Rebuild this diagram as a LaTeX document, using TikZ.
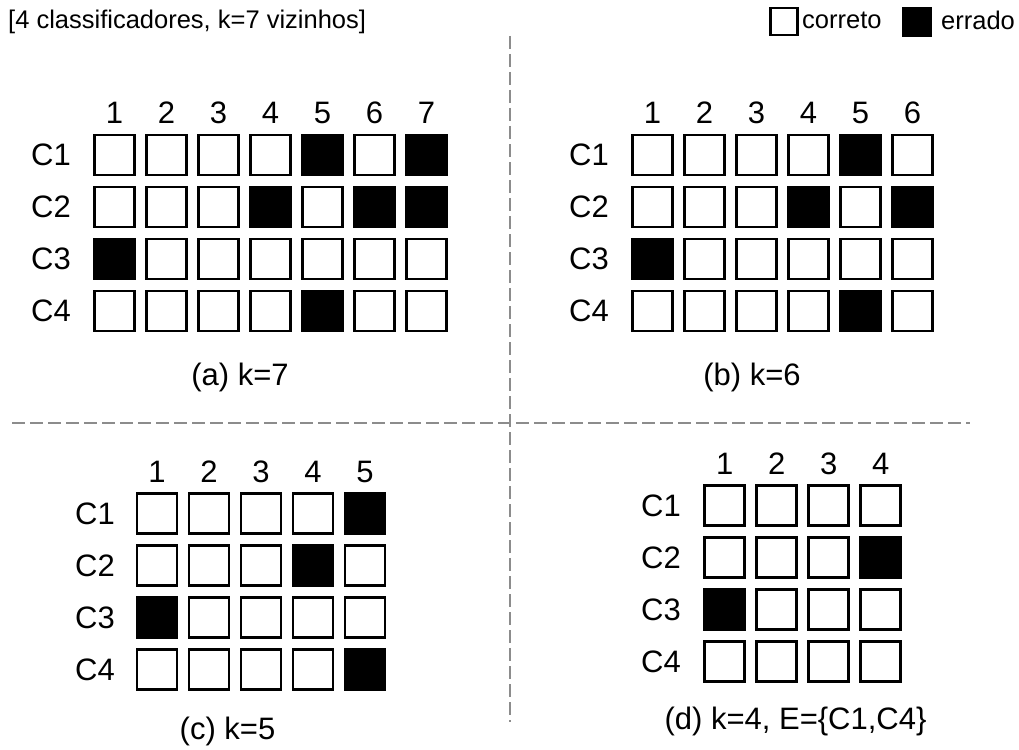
\documentclass[tikz,border=0pt]{standalone}
\usepackage{fontspec}
\setmainfont{Liberation Sans}
\tikzset{
  cell/.style={draw, line width=2.8pt, minimum size=40pt, inner sep=0pt, fill=white},
  wrong/.style={cell, fill=black},
  lab/.style={font=\fontsize{31}{36}\selectfont, inner sep=0pt},
  small/.style={font=\fontsize{25.5}{30}\selectfont, inner sep=0pt},
  sep/.style={draw=black!45, line width=2pt, dash pattern=on 13pt off 5pt}
}
\newcommand\mypanel[6]{%
  \foreach \r in {1,...,4}{\foreach \c in {1,...,#4}{%
    \node[cell] (#1-\r-\c) at ({#2+52*(\c-1)},{#3+52*(\r-1)}) {};}}
  \foreach \c in {1,...,#4} \node[lab] (#1-h\c) at ({#2+52*(\c-1)},{#3-42}) {\c};
  \foreach \r in {1,...,4} \node[lab] (#1-l\r) at (#5,{#3+52*(\r-1)}) {C\r};
  \foreach \r/\c in {#6} \node[wrong] at (#1-\r-\c) {};
}
\begin{document}
\begin{tikzpicture}[x=1pt,y=-1pt]
\useasboundingbox (0,0) rectangle (1019,749);
% separators
\coordinate (v1) at (510,36);
\coordinate (v2) at (510,722);
\coordinate (h1) at (12,423);
\coordinate (h2) at (970,423);
\draw[sep] (v1) -- (v2);
\draw[sep] (h1) -- (h2);
% title and legend
\node[small, anchor=west] (title) at (8,22) {[4 classificadores, k=7 vizinhos]};
\node[draw, line width=2.2pt, minimum size=27pt, inner sep=0pt] (legok) at (784,21.5) {};
\node[small, anchor=west] (legoktxt) at (802,20) {correto};
\node[fill=black, minimum size=30pt, inner sep=0pt] (legbad) at (917,22) {};
\node[small, anchor=west] (legbadtxt) at (941,20) {errado};
% panels
\mypanel{a}{114.5}{155}{7}{51}{1/5,1/7,2/4,2/6,2/7,3/1,4/5}
\mypanel{b}{652.5}{155}{6}{589}{1/5,2/4,2/6,3/1,4/5}
\mypanel{c}{157}{513.5}{5}{95}{1/5,2/4,3/1,4/5}
\mypanel{d}{724.7}{505.7}{4}{661}{2/4,3/1}
% captions
\node[lab] (capa) at (240,377) {(a) k=7};
\node[lab] (capb) at (752,377) {(b) k=6};
\node[lab] (capc) at (227.5,731) {(c) k=5};
\node[lab] (capd) at (795.5,721) {(d) k=4, E=\{C1,C4\}};
\end{tikzpicture}
\end{document}
